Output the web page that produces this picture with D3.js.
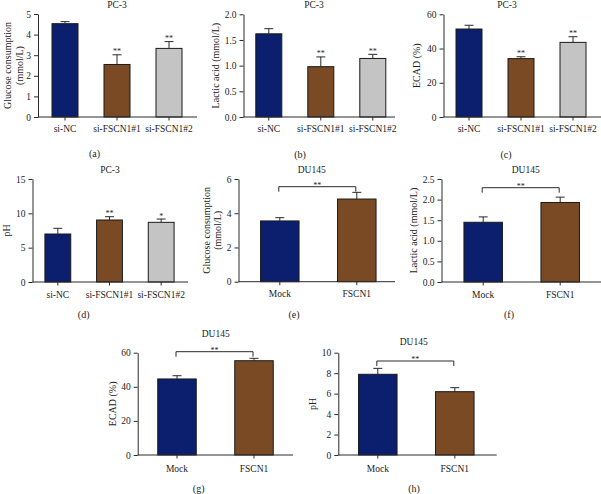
<!DOCTYPE html>
<html><head><meta charset="utf-8">
<script src="https://cdn.jsdelivr.net/npm/d3@7"></script>
<style>
html,body{margin:0;padding:0;background:#fff;}
svg{display:block;font-family:"Liberation Serif","DejaVu Serif",serif;}
</style></head>
<body>
<svg id="chart" width="601" height="494"></svg>
<script>
// ---------- DATA ----------
const pcCategories = ["si-NC", "si-FSCN1#1", "si-FSCN1#2"];
const duCategories = ["Mock", "FSCN1"];

const glucosePC = [4.53, 2.55, 3.33];
const glucosePCErr = [0.10, 0.47, 0.33];
const lacticPC = [1.62, 0.98, 1.14];
const lacticPCErr = [0.10, 0.19, 0.08];
const ecadPC = [51.4, 34.1, 43.6];
const ecadPCErr = [2.2, 1.1, 3.3];
const phPC = [6.99, 9.03, 8.69];
const phPCErr = [0.83, 0.48, 0.48];
const starsPCa = ["", "**", "**"];
const starsPCd = ["", "**", "*"];

const glucoseDU = [3.55, 4.83];
const glucoseDUErr = [0.19, 0.39];
const lacticDU = [1.45, 1.93];
const lacticDUErr = [0.13, 0.13];
const ecadDU = [44.6, 55.3];
const ecadDUErr = [1.9, 1.4];
const phDU = [7.89, 6.19];
const phDUErr = [0.58, 0.39];

const ticksGlucosePC = [0, 1, 2, 3, 4, 5];
const ticksLactic = [0, 0.5, 1.0, 1.5, 2.0];
const ticksLacticDU = [0, 0.5, 1.0, 1.5, 2.0, 2.5];
const ticksEcad = [0, 20, 40, 60];
const ticksPhPC = [0, 5, 10, 15];
const ticksGlucoseDU = [0, 2, 4, 6];
const ticksPhDU = [0, 2, 4, 6, 8, 10];

const colorsPC = ["#0c1f6e", "#7a4a24", "#c4c4c4"];
const colorsDU = ["#0c1f6e", "#7a4a24"];

// ---------- LAYOUT / DRAW ----------
const svg = d3.select("#chart");
const panels = [
  {cats: pcCategories, vals: glucosePC, errs: glucosePCErr, stars: starsPCa, colors: colorsPC,
   max: 5, ticks: ticksGlucosePC, fmt: d3.format("d"),
   axisX: 38, axisEnd: 197, yBot: 117, yTop: 14, xr: [39, 195],
   title: "PC-3", titleX: 117, titleY: 7.5, ylab: ["Glucose consumption", "(mmol/L)"], ylabX: [7.5, 19],
   tag: "(a)", tagX: 94.5, tagY: 157, labY: 131.5},
  {cats: pcCategories, vals: lacticPC, errs: lacticPCErr, stars: starsPCa, colors: colorsPC,
   max: 2, ticks: ticksLactic, fmt: d3.format(".1f"),
   axisX: 243.5, axisEnd: 395, yBot: 117, yTop: 14.3, xr: [242.8, 398.8],
   title: "PC-3", titleX: 314, titleY: 7.5, ylab: ["Lactic acid (mmol/L)"], ylabX: [215],
   tag: "(b)", tagX: 300, tagY: 158, labY: 131.5},
  {cats: pcCategories, vals: ecadPC, errs: ecadPCErr, stars: starsPCa, colors: colorsPC,
   max: 60, ticks: ticksEcad, fmt: d3.format("d"),
   axisX: 443.5, axisEnd: 601, yBot: 117, yTop: 14.3, xr: [443, 599],
   title: "PC-3", titleX: 507, titleY: 7.5, ylab: ["ECAD (%)"], ylabX: [416],
   tag: "(c)", tagX: 506, tagY: 158, labY: 131.5},
  {cats: pcCategories, vals: phPC, errs: phPCErr, stars: starsPCd, colors: colorsPC,
   max: 15, ticks: ticksPhPC, fmt: d3.format("d"),
   axisX: 32.5, axisEnd: 188, yBot: 282, yTop: 179, xr: [32, 187],
   title: "PC-3", titleX: 110, titleY: 172.5, ylab: ["pH"], ylabX: [6.7],
   tag: "(d)", tagX: 83.7, tagY: 318, labY: 298},
  {cats: duCategories, vals: glucoseDU, errs: glucoseDUErr, colors: colorsDU,
   max: 6, ticks: ticksGlucoseDU, fmt: d3.format("d"),
   axisX: 238.5, axisEnd: 395, yBot: 281.7, yTop: 179, xr: [241.3, 395.3],
   title: "DU145", titleX: 311.7, titleY: 172.5, ylab: ["Glucose consumption", "(mmol/L)"], ylabX: [206, 217.5],
   tag: "(e)", tagX: 294, tagY: 318, labY: 297.5, bracketY: 186.7},
  {cats: duCategories, vals: lacticDU, errs: lacticDUErr, colors: colorsDU,
   max: 2.5, ticks: ticksLacticDU, fmt: d3.format(".1f"),
   axisX: 441.5, axisEnd: 601, yBot: 282, yTop: 179, xr: [444.7, 598.7],
   title: "DU145", titleX: 525.7, titleY: 172.5, ylab: ["Lactic acid (mmol/L)"], ylabX: [413],
   tag: "(f)", tagX: 509, tagY: 318, labY: 297.5, bracketY: 187.7},
  {cats: duCategories, vals: ecadDU, errs: ecadDUErr, colors: colorsDU,
   max: 60, ticks: ticksEcad, fmt: d3.format("d"),
   axisX: 137.7, axisEnd: 293, yBot: 455, yTop: 352.7, xr: [138.5, 292.5],
   title: "DU145", titleX: 215.7, titleY: 337, ylab: ["ECAD (%)"], ylabX: [112.5],
   tag: "(g)", tagX: 198.7, tagY: 491.5, labY: 471.5, bracketY: 351.7},
  {cats: duCategories, vals: phDU, errs: phDUErr, colors: colorsDU,
   max: 10, ticks: ticksPhDU, fmt: d3.format("d"),
   axisX: 338.3, axisEnd: 496.7, yBot: 455, yTop: 352.7, xr: [339.3, 493.3],
   title: "DU145", titleX: 413.7, titleY: 345, ylab: ["pH"], ylabX: [312],
   tag: "(h)", tagX: 414, tagY: 491.5, labY: 471.5, bracketY: 361}
];

const ink = "#2a2a2a";
const textCol = "#222";

panels.forEach(p => {
  const g = svg.append("g");
  const x = d3.scaleBand().domain(p.cats).range(p.xr).paddingInner(0.5).paddingOuter(0.25);
  const y = d3.scaleLinear().domain([0, p.max]).range([p.yBot, p.yTop]);
  const bw = x.bandwidth();

  // y axis
  const ya = d3.axisLeft(y).tickValues(p.ticks).tickFormat(p.fmt).tickSize(4).tickSizeOuter(0).tickPadding(3);
  const yg = g.append("g").attr("transform", `translate(${p.axisX},0)`).call(ya);
  yg.select(".domain").attr("stroke", ink);
  yg.selectAll(".tick line").attr("stroke", ink);
  yg.selectAll(".tick text").attr("font-size", "9.5px").attr("fill", textCol)
    .attr("font-family", "Liberation Serif, serif");

  // bars
  g.selectAll("rect.bar").data(p.vals).join("rect")
    .attr("x", (d, i) => x(p.cats[i]))
    .attr("y", d => y(d))
    .attr("width", bw)
    .attr("height", d => y(0) - y(d))
    .attr("fill", (d, i) => p.colors[i])
    .attr("stroke", "#1a1a1a").attr("stroke-width", 1);

  // error bars (upper only)
  p.vals.forEach((v, i) => {
    const cx = x(p.cats[i]) + bw / 2;
    const top = y(v + p.errs[i]);
    g.append("line").attr("x1", cx).attr("x2", cx).attr("y1", y(v)).attr("y2", top)
      .attr("stroke", ink).attr("stroke-width", 1);
    g.append("line").attr("x1", cx - 4.5).attr("x2", cx + 4.5).attr("y1", top).attr("y2", top)
      .attr("stroke", ink).attr("stroke-width", 1);
    if (p.stars && p.stars[i]) {
      g.append("text").attr("x", cx).attr("y", top - 0.5).attr("text-anchor", "middle")
        .attr("font-size", "8px").attr("fill", textCol).text(p.stars[i]);
    }
  });

  // x axis
  const xa = d3.axisBottom(x).tickSize(3.5).tickSizeOuter(0).tickPadding(4);
  const xg = g.append("g").attr("transform", `translate(0,${p.yBot})`).call(xa);
  xg.select(".domain").remove();
  xg.selectAll(".tick line").attr("stroke", ink);
  xg.selectAll(".tick text").attr("font-size", "9.5px").attr("fill", textCol)
    .attr("font-family", "Liberation Serif, serif").attr("dy", null)
    .attr("y", p.labY - p.yBot);
  g.append("line").attr("x1", p.axisX).attr("x2", p.axisEnd).attr("y1", p.yBot).attr("y2", p.yBot)
    .attr("stroke", ink).attr("stroke-width", 1);

  // significance bracket
  if (p.bracketY !== undefined) {
    const x1 = x(p.cats[0]) + bw / 2 - 1, x2 = x(p.cats[1]) + bw / 2 - 1;
    g.append("path")
      .attr("d", `M${x1},${p.bracketY + 5}V${p.bracketY}H${x2}V${p.bracketY + 5}`)
      .attr("fill", "none").attr("stroke", ink).attr("stroke-width", 1);
    g.append("text").attr("x", (x1 + x2) / 2).attr("y", p.bracketY + 1).attr("text-anchor", "middle")
      .attr("font-size", "8px").attr("fill", textCol).text("**");
  }

  // title
  g.append("text").attr("x", p.titleX).attr("y", p.titleY).attr("text-anchor", "middle")
    .attr("font-size", "9.5px").attr("fill", textCol).text(p.title);

  // y label
  const cy = (p.yTop + p.yBot) / 2;
  p.ylab.forEach((t, k) => {
    g.append("text").attr("transform", `translate(${p.ylabX[k]},${cy}) rotate(-90)`)
      .attr("text-anchor", "middle").attr("dy", "0.35em")
      .attr("font-size", "10px").attr("fill", textCol).text(t);
  });

  // panel tag
  g.append("text").attr("x", p.tagX).attr("y", p.tagY).attr("text-anchor", "middle")
    .attr("font-size", "10px").attr("fill", textCol).text(p.tag);
});
</script>
</body></html>
